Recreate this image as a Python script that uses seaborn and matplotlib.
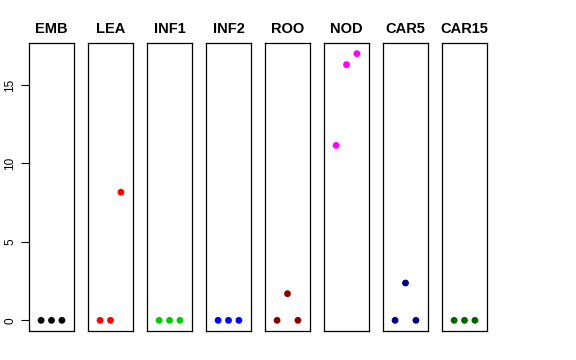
import matplotlib
matplotlib.use("Agg")
import matplotlib.pyplot as plt
import seaborn as sns
import pandas as pd

sns.set_style("white")
plt.rcParams['font.family'] = ['Liberation Sans', 'DejaVu Sans']
plt.rcParams['text.color'] = 'black'
plt.rcParams['axes.labelcolor'] = 'black'
plt.rcParams['xtick.color'] = 'black'
plt.rcParams['ytick.color'] = 'black'

tissues = ["EMB", "LEA", "INF1", "INF2", "ROO", "NOD", "CAR5", "CAR15"]
colors = ["#000000", "#FF0000", "#00CD00", "#0000FF", "#8B0000", "#FF00FF", "#000080", "#006400"]
replicate = [1, 2, 3]
values = {
    "EMB": [0, 0, 0],
    "LEA": [0, 0, 8.17],
    "INF1": [0, 0, 0],
    "INF2": [0, 0, 0],
    "ROO": [0, 1.70, 0],
    "NOD": [11.15, 16.3, 17.0],
    "CAR5": [0, 2.38, 0],
    "CAR15": [0, 0, 0],
}
yticks = [0, 5, 10, 15]

W, H = 576, 360
fig = plt.figure(figsize=(W / 100, H / 100), dpi=100)
ymax = max(max(v) for v in values.values())
ymin = 0
ext = (ymax - ymin) * 0.04
for i, (t, c) in enumerate(zip(tissues, colors)):
    left = 29 + 59 * i
    ax = fig.add_axes([left / W, 1 - 331 / H, 45 / W, 288 / H])
    df = pd.DataFrame({"x": replicate, "y": values[t]})
    sns.scatterplot(data=df, x="x", y="y", ax=ax, color=c, s=24, edgecolor="none", linewidth=0)
    ax.set_xlim(-0.16, 4.16)
    ax.set_ylim(ymin - ext, ymax + ext)
    ax.set_xticks([])
    ax.set_xlabel("")
    ax.set_ylabel("")
    ax.set_title(t, fontsize=10.5, fontweight="bold", pad=7, color="black")
    for sp in ax.spines.values():
        sp.set_color("#000000")
        sp.set_linewidth(0.9)
        sp.set_visible(True)
    if i == 0:
        ax.set_yticks(yticks)
        ax.set_yticklabels([str(v) for v in yticks], rotation=90, va="center", fontsize=8.5, color="black")
        ax.tick_params(axis="y", length=6, width=0.8, left=True, pad=3, color="#000000")
    else:
        ax.set_yticks([])

fig.savefig("out.png", dpi=100, facecolor="white")
